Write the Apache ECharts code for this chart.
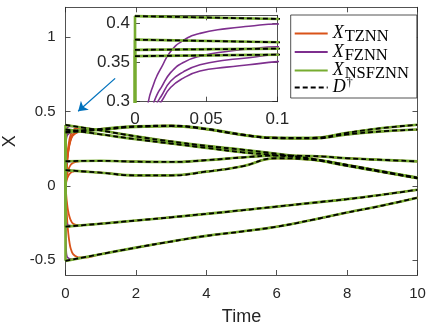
<!DOCTYPE html>
<html><head><meta charset="utf-8">
<script src="https://cdn.jsdelivr.net/npm/echarts@6/dist/echarts.min.js"></script>
<style>html,body{margin:0;padding:0;background:#fff}#c{width:427px;height:328px}</style>
</head><body><div id="c"></div>
<script>
// ---- data ----
const X_TICKS = [0, 2, 4, 6, 8, 10];
const Y_TICKS = [-0.5, 0, 0.5, 1];
const INSET_X_TICKS = [0, 0.05, 0.1];
const INSET_Y_TICKS = [0.3, 0.35, 0.4];

// theoretical solution D† (8 entries) over time
const tD = [0, 1, 2, 3, 4, 5, 6, 7, 8, 9, 10];
const D1 = [0.409, 0.372, 0.332, 0.298, 0.268, 0.243, 0.215, 0.182, 0.138, 0.095, 0.055];
const D2 = [0.379, 0.346, 0.313, 0.284, 0.255, 0.226, 0.205, 0.178, 0.134, 0.092, 0.050];
const D3 = [0.366, 0.382, 0.400, 0.404, 0.383, 0.345, 0.323, 0.322, 0.356, 0.388, 0.410];
const D4 = [0.358, 0.377, 0.396, 0.401, 0.380, 0.342, 0.320, 0.318, 0.345, 0.366, 0.378];
const D5 = [0.165, 0.168, 0.162, 0.160, 0.172, 0.190, 0.203, 0.200, 0.185, 0.174, 0.164];
const D6 = [0.105, 0.088, 0.070, 0.070, 0.095, 0.130, 0.185, 0.175, 0.140, 0.097, 0.052];
const D7 = [-0.275, -0.255, -0.234, -0.212, -0.189, -0.165, -0.140, -0.115, -0.090, -0.060, -0.027];
const D8 = [-0.505, -0.460, -0.416, -0.375, -0.337, -0.308, -0.275, -0.230, -0.180, -0.133, -0.080];

// initial state of every model
const X0 = [0, 0, 0, 0, 0, 0, 0, 0];

// TZNN transient
const tO = [0, 0.02, 0.04, 0.06, 0.08, 0.1, 0.13, 0.16, 0.2, 0.25, 0.3, 0.4, 0.5];
const O1 = [0, 0.090, 0.164, 0.221, 0.262, 0.294, 0.329, 0.351, 0.370, 0.381, 0.387, 0.390, 0.389];
const O2 = [0, 0.083, 0.151, 0.204, 0.241, 0.271, 0.303, 0.325, 0.343, 0.353, 0.359, 0.362, 0.362];
const O3 = [0, 0.081, 0.147, 0.198, 0.235, 0.265, 0.298, 0.321, 0.340, 0.352, 0.361, 0.368, 0.374];
const O4 = [0, 0.079, 0.143, 0.194, 0.229, 0.259, 0.291, 0.314, 0.334, 0.346, 0.354, 0.362, 0.368];
const O5 = [0, 0.036, 0.066, 0.089, 0.106, 0.119, 0.134, 0.144, 0.152, 0.157, 0.161, 0.165, 0.167];
const O6 = [0, 0.023, 0.042, 0.056, 0.067, 0.075, 0.084, 0.090, 0.095, 0.098, 0.099, 0.099, 0.096];
const O7 = [0, -0.060, -0.110, -0.148, -0.175, -0.197, -0.221, -0.237, -0.251, -0.259, -0.263, -0.266, -0.265];
const O8 = [0, -0.111, -0.201, -0.271, -0.321, -0.360, -0.405, -0.430, -0.454, -0.467, -0.475, -0.482, -0.483];

// FZNN transient
const tP = [0, 0.003, 0.006, 0.0094, 0.0132, 0.016, 0.0184, 0.025, 0.034, 0.0457, 0.0644, 0.08, 0.1, 0.13, 0.17, 0.25, 0.4];
const P1 = [0, 0.164, 0.245, 0.300, 0.323, 0.335, 0.343, 0.364, 0.378, 0.387, 0.393, 0.396, 0.399, 0.399, 0.399, 0.399, 0.393];
const P2 = [0, 0.152, 0.227, 0.278, 0.299, 0.311, 0.318, 0.337, 0.350, 0.358, 0.364, 0.367, 0.370, 0.370, 0.370, 0.371, 0.365];
const P3 = [0, 0.146, 0.220, 0.268, 0.289, 0.300, 0.307, 0.326, 0.338, 0.347, 0.353, 0.356, 0.3605, 0.363, 0.366, 0.370, 0.372];
const P4 = [0, 0.143, 0.215, 0.262, 0.283, 0.294, 0.300, 0.318, 0.330, 0.339, 0.344, 0.347, 0.351, 0.355, 0.358, 0.362, 0.365];
const P5 = [0, 0.066, 0.099, 0.121, 0.130, 0.135, 0.138, 0.148, 0.153, 0.156, 0.159, 0.160, 0.161, 0.163, 0.164, 0.166, 0.167];
const P6 = [0, 0.042, 0.063, 0.077, 0.083, 0.086, 0.088, 0.094, 0.097, 0.099, 0.101, 0.101, 0.101, 0.101, 0.102, 0.101, 0.098];
const P7 = [0, -0.110, -0.165, -0.202, -0.217, -0.225, -0.230, -0.246, -0.254, -0.260, -0.264, -0.265, -0.266, -0.268, -0.269, -0.270, -0.267];
const P8 = [0, -0.202, -0.303, -0.370, -0.399, -0.414, -0.423, -0.452, -0.467, -0.477, -0.483, -0.486, -0.489, -0.491, -0.494, -0.494, -0.487];

// annotation arrow (data coordinates: from, to)
const ARROW = [[1.41, 0.722], [0.36, 0.501]];

const SERIES_NAMES = ['X_TZNN', 'X_FZNN', 'X_NSFZNN', 'D'];
const LEGEND_TEXT = {
  'X_TZNN': '{x|X}{s|TZNN}',
  'X_FZNN': '{x|X}{s|FZNN}',
  'X_NSFZNN': '{x|X}{s|NSFZNN}',
  'D': '{x|D}{p|\u2020}'
};

// ---- chart ----
const D = [D1, D2, D3, D4, D5, D6, D7, D8];
const O = [O1, O2, O3, O4, O5, O6, O7, O8];
const P = [P1, P2, P3, P4, P5, P6, P7, P8];
const ORANGE = '#D95319', PURPLE = '#7E2F8E', GREEN = '#77AC30', BLUE = '#0072BD', AX = '#262626';
function pts(ts, vs) { return ts.map((t, i) => [t, vs[i]]); }

const series = [];
const base = { type: 'line', symbol: 'none', showSymbol: false, animation: false, emphasis: { disabled: true } };
const SM = 0.5;
[[0, 0], [2, 2]].forEach(([xi, yi]) => {
  const ax = { xAxisIndex: xi, yAxisIndex: yi };
  for (let k = 0; k < 8; k++) series.push(Object.assign({}, base, ax, {
    name: SERIES_NAMES[0], smooth: SM,
    data: pts(tO, O[k]).concat(pts(tD, D[k]).slice(1)),
    lineStyle: { color: ORANGE, width: 1.8 }, itemStyle: { color: ORANGE }
  }));
  for (let k = 0; k < 8; k++) series.push(Object.assign({}, base, ax, {
    name: SERIES_NAMES[1], smooth: SM,
    data: pts(tP, P[k]).concat(pts(tD, D[k]).slice(1)),
    lineStyle: { color: PURPLE, width: 1.6 }, itemStyle: { color: PURPLE }
  }));
  for (let k = 0; k < 8; k++) {
    series.push(Object.assign({}, base, ax, {
      name: SERIES_NAMES[2], smooth: false,
      data: [[0, X0[k]], [0, D[k][0]]],
      lineStyle: { color: GREEN, width: 2.6 }, itemStyle: { color: GREEN }
    }));
    series.push(Object.assign({}, base, ax, {
      name: SERIES_NAMES[2], smooth: SM,
      data: pts(tD, D[k]),
      lineStyle: { color: GREEN, width: 2.6 }, itemStyle: { color: GREEN }
    }));
  }
  for (let k = 0; k < 8; k++) series.push(Object.assign({}, base, ax, {
    name: SERIES_NAMES[3], smooth: SM,
    data: pts(tD, D[k]),
    lineStyle: { color: '#000', width: 1.8, type: [5, 3] }, itemStyle: { color: '#000' }
  }));
});
series.push({
  type: 'lines', coordinateSystem: 'cartesian2d', xAxisIndex: 0, yAxisIndex: 0, silent: true, animation: false,
  symbol: ['none', 'arrow'], symbolSize: 9,
  lineStyle: { color: BLUE, width: 1.3, opacity: 1 },
  data: [{ coords: ARROW }]
});

const tickStyle = { color: AX, width: 0.8 };
const labelStyle = { color: AX, fontFamily: 'Liberation Sans', fontSize: 15 };
function xAx(grid, pos, min, max, interval, showLabel, fs, margin) {
  return {
    type: 'value', gridIndex: grid, position: pos, min: min, max: max, interval: interval,
    axisLine: { show: true, onZero: false, lineStyle: tickStyle },
    axisTick: { show: true, inside: true, length: 5, lineStyle: tickStyle },
    axisLabel: Object.assign({}, labelStyle, { show: showLabel, fontSize: fs, margin: margin, formatter: v => String(+v.toFixed(4)) }),
    splitLine: { show: false }
  };
}
function yAx(grid, pos, min, max, ticks, showLabel, fs, margin) {
  return {
    type: 'value', gridIndex: grid, position: pos, min: min, max: max,
    axisLine: { show: true, onZero: false, lineStyle: tickStyle },
    axisTick: { show: true, inside: true, length: 5, lineStyle: tickStyle, customValues: ticks },
    axisLabel: Object.assign({}, labelStyle, { show: showLabel, fontSize: fs, margin: margin, customValues: ticks, formatter: v => String(+v.toFixed(4)) }),
    splitLine: { show: false }
  };
}
const xMain = xAx(0, 'bottom', 0, 10, 2, true, 15, 11);
xMain.name = 'Time'; xMain.nameLocation = 'middle'; xMain.nameGap = 33;
xMain.nameTextStyle = { color: AX, fontFamily: 'Liberation Sans', fontSize: 18 };
const yMain = yAx(0, 'left', -0.6, 1.2, Y_TICKS, true, 15, 10);
yMain.name = 'X'; yMain.nameLocation = 'middle'; yMain.nameGap = 40;
yMain.nameTextStyle = { color: AX, fontFamily: 'Liberation Sans', fontSize: 18 };

const option = {
  animation: false,
  backgroundColor: '#fff',
  grid: [
    { left: 65.5, top: 7.3, width: 352, height: 267.7, containLabel: false, outerBoundsMode: 'none' },
    { left: 135, top: 15.3, width: 142.3, height: 86.4, show: true, backgroundColor: '#fff', borderWidth: 0, containLabel: false, outerBoundsMode: 'none' }
  ],
  xAxis: [
    xMain,
    xAx(0, 'top', 0, 10, 2, false, 15, 8),
    xAx(1, 'bottom', 0, 0.1, 0.05, true, 17, 9),
    xAx(1, 'top', 0, 0.1, 0.05, false, 17, 8)
  ],
  yAxis: [
    yMain,
    yAx(0, 'right', -0.6, 1.2, Y_TICKS, false, 15, 8),
    yAx(1, 'left', 0.3, 0.41, INSET_Y_TICKS, true, 17, 5),
    yAx(1, 'right', 0.3, 0.41, INSET_Y_TICKS, false, 17, 8)
  ],
  legend: {
    orient: 'vertical', left: 290.7, top: 15, selectedMode: false,
    padding: [6.5, 8, 0, 3], itemGap: -5.5, itemWidth: 33, itemHeight: 14,
    backgroundColor: '#fff', borderColor: AX, borderWidth: 0.8, borderRadius: 0,
    itemStyle: { opacity: 0, borderWidth: 0 },
    data: SERIES_NAMES,
    formatter: n => LEGEND_TEXT[n],
    textStyle: {
      color: '#000',
      rich: {
        x: { fontFamily: 'Liberation Serif', fontStyle: 'italic', fontSize: 18, lineHeight: 18 },
        s: { fontFamily: 'Liberation Serif', fontSize: 16.5, lineHeight: 18, padding: [7, 0, 0, 1] },
        p: { fontFamily: 'Liberation Serif', fontSize: 12, lineHeight: 18, padding: [0, 0, 9, 1] }
      }
    }
  },
  series: series
};
const chart = echarts.init(document.getElementById('c'), null, { renderer: 'canvas', width: 427, height: 328 });
chart.setOption(option);
</script></body></html>
